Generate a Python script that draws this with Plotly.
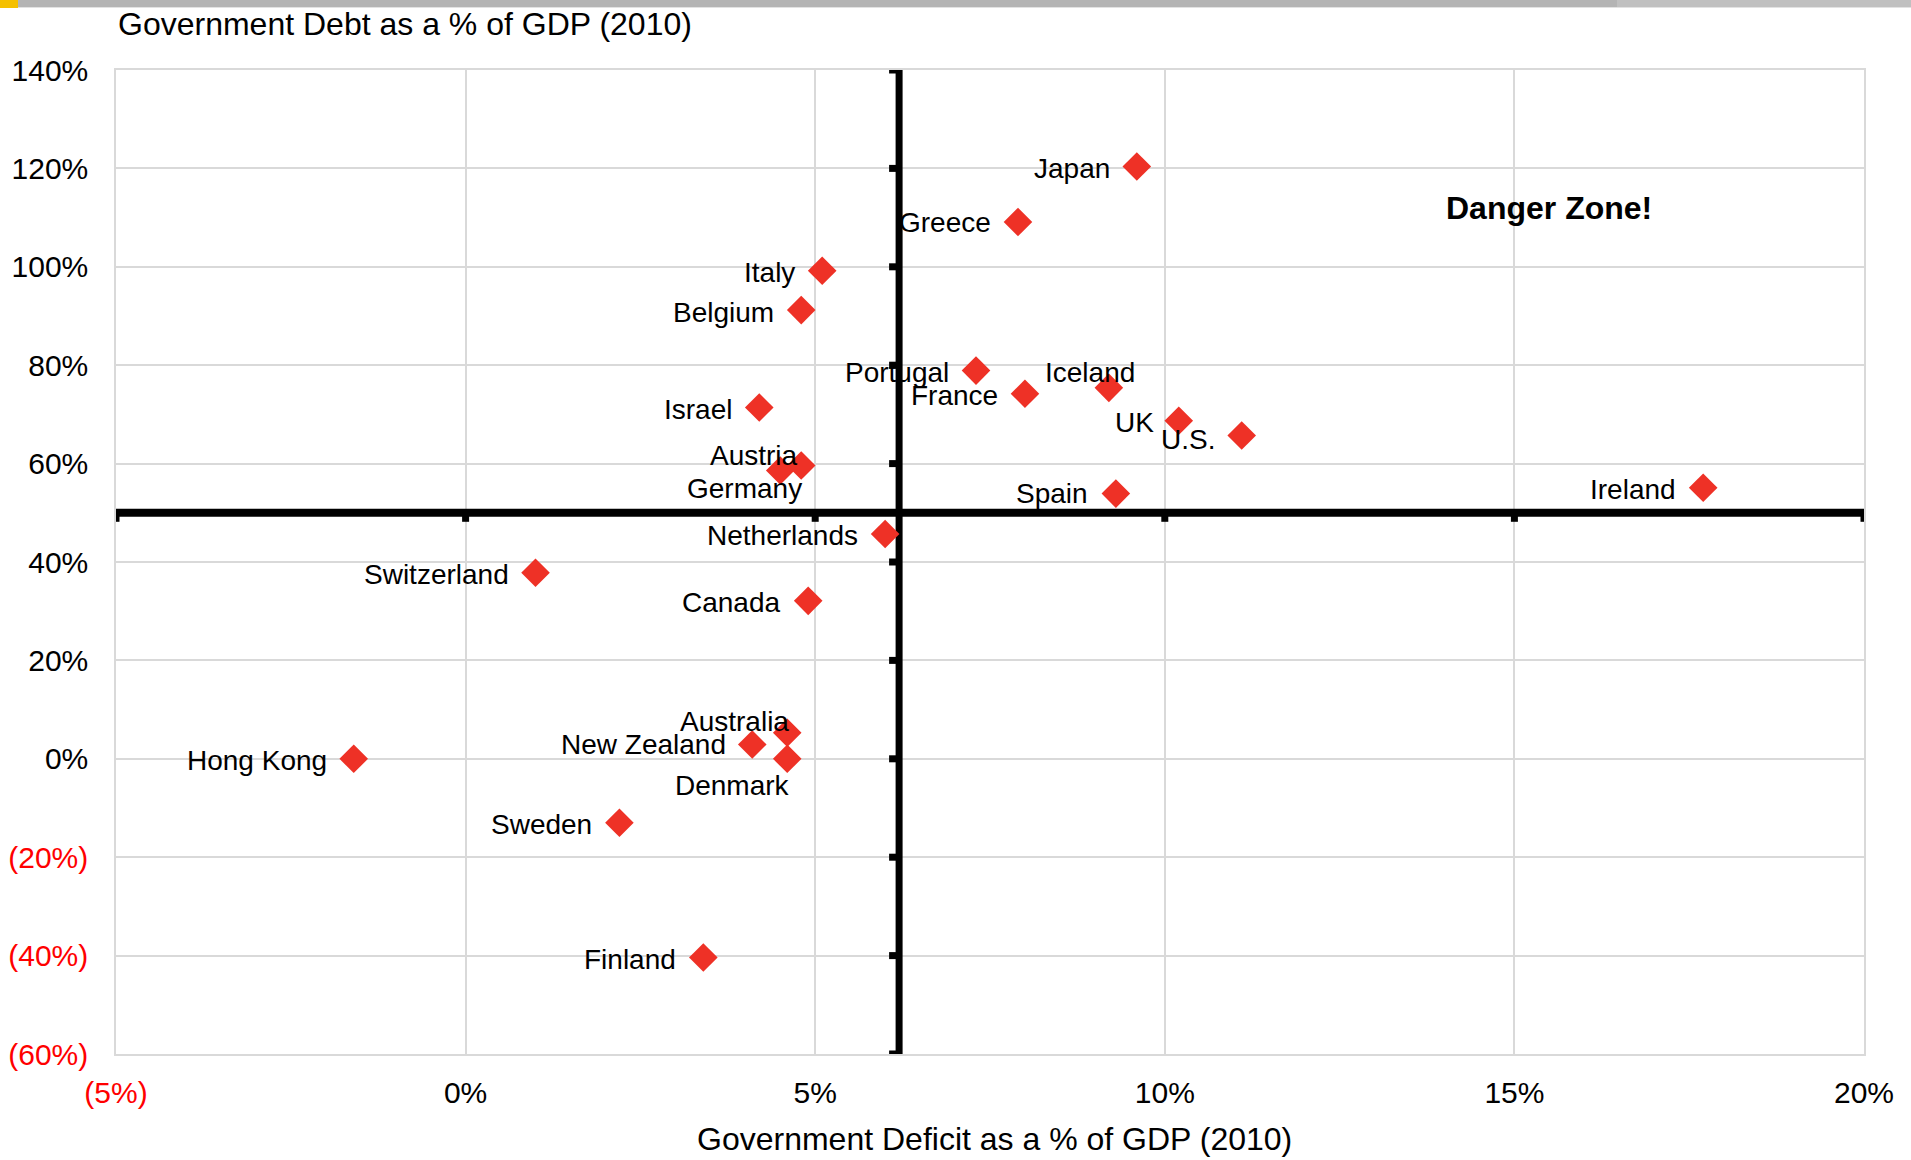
import plotly.graph_objects as go

# Government deficit vs. debt, % of GDP (2010)
countries = ["Japan", "Greece", "Italy", "Belgium", "Portugal", "Iceland", "France",
             "Israel", "UK", "U.S.", "Austria", "Germany", "Spain", "Ireland",
             "Netherlands", "Switzerland", "Canada", "Australia", "New Zealand",
             "Denmark", "Hong Kong", "Sweden", "Finland"]
deficit_pct = [9.6, 7.9, 5.1, 4.8, 7.3, 9.2, 8.0, 4.2, 10.2, 11.1, 4.8, 4.5, 9.3, 17.7,
               6.0, 1.0, 4.9, 4.6, 4.1, 4.6, -1.6, 2.2, 3.4]
debt_pct = [120.4, 109.1, 99.2, 91.2, 78.9, 75.4, 74.2, 71.4, 68.7, 65.7, 59.6, 58.6,
            53.9, 55.1, 45.7, 37.8, 32.1, 5.3, 2.9, 0.0, 0.0, -13.0, -40.4]

# Axis crossing point (average deficit / debt threshold)
cross_x = 6.2
cross_y = 50

x_ticks = [-5, 0, 5, 10, 15, 20]
y_ticks = [-60, -40, -20, 0, 20, 40, 60, 80, 100, 120, 140]

RED = "#ff0000"
MARK = "#ee3126"
FONT = "Liberation Sans, Arial, sans-serif"


def pct_label(v):
    if v < 0:
        return f"<span style='color:{RED}'>({abs(v)}%)</span>"
    return f"{v}%"


# label placement: (x shift of the label's right edge, downward shift) in px
default_offset = (-25, 2)
label_offsets = {
    "Iceland": (28, -15),
    "Austria": (-1, -10),
    "Germany": (24, 18),
    "Australia": (4, -11),
    "Denmark": (5, 27),
    "UK": (-23, 2),
    "U.S.": (-25, 4),
    "Spain": (-26, 0),
    "Greece": (-25, 0),
    "New Zealand": (-24, 0),
}

fig = go.Figure()
fig.add_trace(go.Scatter(
    x=deficit_pct, y=debt_pct, mode="markers",
    marker=dict(symbol="diamond", size=22, color=MARK, line=dict(width=0)),
    hoverinfo="skip", showlegend=False,
))

annotations = []
for name, xv, yv in zip(countries, deficit_pct, debt_pct):
    dx, dy = label_offsets.get(name, default_offset)
    annotations.append(dict(
        x=xv, y=yv, xref="x", yref="y", text=name, showarrow=False,
        xanchor="right", yanchor="middle", xshift=dx, yshift=-dy,
        font=dict(family=FONT, size=28, color="#000000"),
    ))

annotations.append(dict(
    x=15.5, y=112, xref="x", yref="y", text="<b>Danger Zone!</b>", showarrow=False,
    xanchor="center", yanchor="middle",
    font=dict(family=FONT, size=32, color="#000000"),
))

W, H = 1911, 1160
ML, MR, MT, MB = 116, 47, 70, 106
PW, PH = W - ML - MR, H - MT - MB


def px_x(px):
    return (px - ML) / PW


def px_y(py):
    return (H - MB - py) / PH


annotations += [
    dict(x=0, y=px_y(24), xref="paper", yref="paper", showarrow=False,
         text="Government Debt as a % of GDP (2010)", xanchor="left", yanchor="middle",
         font=dict(family=FONT, size=32, color="#000000")),
    dict(x=px_x(994), y=px_y(1139), xref="paper", yref="paper", showarrow=False,
         text="Government Deficit as a % of GDP (2010)", xanchor="center", yanchor="middle",
         font=dict(family=FONT, size=32, color="#000000")),
    dict(x=px_x(4), y=px_y(1168), xref="paper", yref="paper", showarrow=False,
         text="Source: IMF", xanchor="left", yanchor="middle",
         font=dict(family=FONT, size=18, color="#8c8c8c")),
]

shapes = []
# thick crossing axes
shapes.append(dict(type="line", xref="x", yref="y", x0=cross_x, x1=cross_x,
                   y0=y_ticks[0], y1=y_ticks[-1], line=dict(color="#000000", width=7),
                   layer="between"))
shapes.append(dict(type="line", xref="x", yref="y", x0=x_ticks[0], x1=x_ticks[-1],
                   y0=cross_y, y1=cross_y, line=dict(color="#000000", width=8),
                   layer="between"))
# tick marks on the crossing axes
for yv in y_ticks:
    shapes.append(dict(type="line", xref="x", yref="y", xsizemode="pixel",
                       xanchor=cross_x, x0=0, x1=-10, y0=yv, y1=yv,
                       line=dict(color="#000000", width=7), layer="between"))
for xv in x_ticks:
    shapes.append(dict(type="line", xref="x", yref="y", ysizemode="pixel",
                       yanchor=cross_y, y0=0, y1=-9, x0=xv, x1=xv,
                       line=dict(color="#000000", width=7), layer="between"))

# page header strip
shapes += [
    dict(type="rect", xref="paper", yref="paper", x0=px_x(0), x1=px_x(1617),
         y0=px_y(7), y1=px_y(0), fillcolor="#b4b4b4", line=dict(width=0), layer="above"),
    dict(type="rect", xref="paper", yref="paper", x0=px_x(1617), x1=px_x(W),
         y0=px_y(7), y1=px_y(0), fillcolor="#c0c0c0", line=dict(width=0), layer="above"),
    dict(type="rect", xref="paper", yref="paper", x0=px_x(0), x1=px_x(W),
         y0=px_y(8), y1=px_y(7), fillcolor="#e2e2e2", line=dict(width=0), layer="above"),
    dict(type="rect", xref="paper", yref="paper", x0=px_x(0), x1=px_x(18),
         y0=px_y(8), y1=px_y(0), fillcolor="#f5c000", line=dict(width=0), layer="above"),
]

axis_common = dict(
    showgrid=True, gridcolor="#d9d9d9", gridwidth=1.5, zeroline=False,
    showline=True, linecolor="#d9d9d9", linewidth=1.5, mirror=True,
    ticks="outside", tickcolor="rgba(0,0,0,0)", automargin=False,
    tickfont=dict(family=FONT, size=30, color="#000000"),
)

fig.update_layout(
    width=W, height=H,
    margin=dict(l=ML, r=MR, t=MT, b=MB),
    paper_bgcolor="#ffffff", plot_bgcolor="#ffffff",
    xaxis=dict(range=[x_ticks[0], x_ticks[-1]], tickvals=x_ticks,
               ticktext=[pct_label(v) for v in x_ticks], ticklen=11, **axis_common),
    yaxis=dict(range=[y_ticks[0], y_ticks[-1]], tickvals=y_ticks,
               ticktext=[pct_label(v) for v in y_ticks], ticklen=20, **axis_common),
    annotations=annotations,
    shapes=shapes,
    hovermode=False,
)

fig.write_html("out.html")
